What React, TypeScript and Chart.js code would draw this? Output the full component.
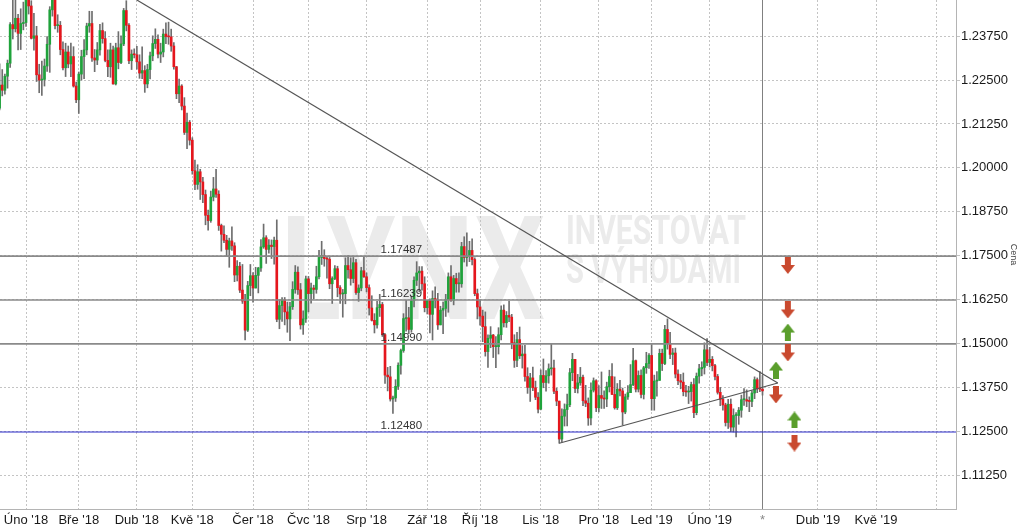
import React, { useEffect, useRef } from 'react';
import { Chart, registerables } from 'chart.js';
Chart.register(...registerables);

// EUR/USD daily candles, trading-day index -10 (18 Jan 2018) .. 279 (1 Mar 2019)
const startIndex = -10;
const firstOpen = 1.217;

const closes = [
  // Jan 2018 (18th-31st)
  1.2236, 1.2221, 1.2261, 1.2298, 1.2408, 1.2396, 1.2426, 1.2383, 1.2411, 1.2414,
  // Feb 2018
  1.2512, 1.2461, 1.2369, 1.2376, 1.2265, 1.225, 1.2252, 1.229, 1.2352, 1.245,
  1.2505, 1.2405, 1.2406, 1.2337, 1.2285, 1.233, 1.2296, 1.2317, 1.2233, 1.2194,
  // Mar 2018
  1.2267, 1.2317, 1.2336, 1.2404, 1.2411, 1.2313, 1.2307, 1.2336, 1.2391, 1.2368,
  1.2306, 1.2288, 1.2336, 1.2239, 1.2342, 1.23, 1.2353, 1.2448, 1.2406, 1.2305,
  1.2324, 1.2322,
  // Apr 2018
  1.2302, 1.227, 1.2277, 1.2239, 1.228, 1.2319, 1.2354, 1.2366, 1.2324, 1.233,
  1.2381, 1.2374, 1.2373, 1.2347, 1.2288, 1.2211, 1.2233, 1.2176, 1.2101, 1.213,
  1.2079,
  // May 2018
  1.1992, 1.1953, 1.1989, 1.196, 1.1924, 1.1865, 1.185, 1.1917, 1.194, 1.1925,
  1.1836, 1.1811, 1.1794, 1.1768, 1.1792, 1.1778, 1.1695, 1.172, 1.1652, 1.1621,
  1.1538, 1.1665, 1.1693,
  // Jun 2018
  1.1658, 1.1694, 1.1715, 1.1775, 1.1801, 1.1768, 1.178, 1.1776, 1.1794, 1.1569,
  1.1608, 1.1624, 1.159, 1.157, 1.1605, 1.1654, 1.1703, 1.1653, 1.1553, 1.157,
  1.1684,
  // Jul 2018
  1.1642, 1.1658, 1.1654, 1.169, 1.1745, 1.175, 1.1742, 1.174, 1.167, 1.1685,
  1.1713, 1.1659, 1.1641, 1.1642, 1.1722, 1.171, 1.1685, 1.173, 1.1645, 1.1658,
  1.1707, 1.169,
  // Aug 2018
  1.1659, 1.1601, 1.1566, 1.1553, 1.1602, 1.1611, 1.1525, 1.141, 1.1405, 1.1342,
  1.1345, 1.1378, 1.1438, 1.148, 1.1571, 1.1573, 1.154, 1.1622, 1.168, 1.1701,
  1.1706, 1.167, 1.1602,
  // Sep 2018
  1.1622, 1.1583, 1.1628, 1.1624, 1.1553, 1.1595, 1.16, 1.1625, 1.169, 1.1623,
  1.1685, 1.167, 1.167, 1.1776, 1.1745, 1.1748, 1.1765, 1.1739, 1.1642, 1.1604,
  // Oct 2018
  1.1578, 1.1548, 1.1477, 1.1515, 1.1524, 1.1491, 1.1491, 1.1525, 1.1595, 1.1559,
  1.158, 1.1575, 1.1502, 1.1452, 1.1511, 1.1465, 1.147, 1.1406, 1.1375, 1.1402,
  1.1374, 1.1347, 1.1313,
  // Nov 2018
  1.1409, 1.1389, 1.1408, 1.1428, 1.143, 1.1364, 1.1336, 1.1228, 1.1293, 1.1312,
  1.1326, 1.1417, 1.1455, 1.1372, 1.1388, 1.1404, 1.1337, 1.133, 1.1288, 1.1367,
  1.1394, 1.1317,
  // Dec 2018
  1.1352, 1.1344, 1.1342, 1.1377, 1.1406, 1.1355, 1.1317, 1.137, 1.1365, 1.1305,
  1.1348, 1.136, 1.1383, 1.1451, 1.137, 1.1409, 1.1355, 1.1431, 1.1443, 1.1466,
  // Jan 2019
  1.1343, 1.1393, 1.1395, 1.1472, 1.1443, 1.154, 1.15, 1.1469, 1.1473, 1.1413,
  1.1394, 1.139, 1.1363, 1.1362, 1.1363, 1.1383, 1.1303, 1.1407, 1.1428, 1.1432,
  1.1482, 1.1446,
  // Feb 2019
  1.1455, 1.1437, 1.1406, 1.1361, 1.1341, 1.1325, 1.1275, 1.1327, 1.1262, 1.1295,
  1.1295, 1.131, 1.134, 1.134, 1.1336, 1.1335, 1.1359, 1.1397, 1.1371, 1.137,
  // Mar 2019
  1.1365,
];

const highs = [
  // Jan 2018
  1.2296, 1.228, 1.2267, 1.2307, 1.2414, 1.2537, 1.2494, 1.2437, 1.2453, 1.2472,
  // Feb 2018
  1.2523, 1.2519, 1.2476, 1.244, 1.2403, 1.2295, 1.2304, 1.231, 1.2374, 1.2459,
  1.2509, 1.2555, 1.2436, 1.2417, 1.2359, 1.2355, 1.2347, 1.2355, 1.2345, 1.2244,
  // Mar 2018
  1.2273, 1.2335, 1.2365, 1.2412, 1.2446, 1.2446, 1.2337, 1.2357, 1.2409, 1.2413,
  1.2388, 1.2336, 1.2355, 1.2347, 1.2355, 1.2388, 1.2376, 1.2454, 1.2476, 1.2411,
  1.2336, 1.2339,
  // Apr 2018
  1.2346, 1.2322, 1.2345, 1.2291, 1.2295, 1.233, 1.2376, 1.2396, 1.2379, 1.2355,
  1.2395, 1.2413, 1.2415, 1.2395, 1.2357, 1.2289, 1.2253, 1.2237, 1.22, 1.2156,
  1.2135,
  // May 2018
  1.2086, 1.2022, 1.2009, 1.1996, 1.1973, 1.1937, 1.188, 1.1934, 1.1973, 1.1996,
  1.1935, 1.184, 1.1835, 1.1808, 1.18, 1.1832, 1.1787, 1.1736, 1.1731, 1.1725,
  1.164, 1.1677, 1.1725,
  // Jun 2018
  1.1702, 1.1717, 1.1717, 1.1796, 1.184, 1.1807, 1.1796, 1.1795, 1.1803, 1.1852,
  1.1625, 1.1631, 1.1631, 1.1618, 1.1617, 1.1676, 1.1722, 1.1718, 1.1671, 1.1593,
  1.1692,
  // Jul 2018
  1.1691, 1.1672, 1.1666, 1.172, 1.1765, 1.1791, 1.1767, 1.1748, 1.1745, 1.169,
  1.1722, 1.172, 1.1665, 1.1654, 1.1744, 1.175, 1.1744, 1.1745, 1.174, 1.1667,
  1.1717, 1.1747,
  // Aug 2018
  1.1701, 1.1667, 1.1636, 1.1585, 1.162, 1.164, 1.1617, 1.1528, 1.1432, 1.1435,
  1.135, 1.1397, 1.1445, 1.1484, 1.1585, 1.1623, 1.1603, 1.1634, 1.169, 1.1733,
  1.1719, 1.1719, 1.169,
  // Sep 2018
  1.1623, 1.1627, 1.165, 1.1661, 1.1643, 1.1606, 1.1618, 1.164, 1.1701, 1.1722,
  1.1694, 1.17, 1.1701, 1.1788, 1.1804, 1.1815, 1.1791, 1.1798, 1.1744, 1.1655,
  // Oct 2018
  1.1624, 1.1595, 1.159, 1.1525, 1.1548, 1.1526, 1.152, 1.1545, 1.1607, 1.161,
  1.1591, 1.1621, 1.1583, 1.1525, 1.1532, 1.1547, 1.1494, 1.1495, 1.1431, 1.1415,
  1.1433, 1.1393, 1.136,
  // Nov 2018
  1.1425, 1.1456, 1.1423, 1.1442, 1.15, 1.1453, 1.1373, 1.1336, 1.1314, 1.1328,
  1.1356, 1.1429, 1.1472, 1.1455, 1.1412, 1.1432, 1.141, 1.1381, 1.1345, 1.1388,
  1.1402, 1.1397,
  // Dec 2018
  1.138, 1.1419, 1.1365, 1.139, 1.1424, 1.1443, 1.1405, 1.1386, 1.1395, 1.1373,
  1.1356, 1.138, 1.144, 1.1486, 1.1453, 1.1422, 1.1425, 1.1435, 1.1475, 1.1471,
  // Jan 2019
  1.1497, 1.141, 1.142, 1.1484, 1.1484, 1.1552, 1.157, 1.1532, 1.1486, 1.1487,
  1.1425, 1.1412, 1.1416, 1.1381, 1.1378, 1.139, 1.14, 1.1416, 1.1441, 1.1448,
  1.1502, 1.1514,
  // Feb 2019
  1.1489, 1.1463, 1.1441, 1.1412, 1.1375, 1.1352, 1.133, 1.1341, 1.1342, 1.1314,
  1.1303, 1.1318, 1.1353, 1.1372, 1.1368, 1.1348, 1.1365, 1.1405, 1.1402, 1.142,
  // Mar 2019
  1.1409,
];

const lows = [
  // Jan 2018
  1.2165, 1.2205, 1.221, 1.2227, 1.2286, 1.2367, 1.2387, 1.2336, 1.2337, 1.2393,
  // Feb 2018
  1.2403, 1.2438, 1.2367, 1.2335, 1.2246, 1.2214, 1.2206, 1.2233, 1.2275, 1.2272,
  1.2432, 1.2396, 1.2386, 1.2322, 1.2279, 1.226, 1.2285, 1.226, 1.223, 1.2186,
  // Mar 2018
  1.2155, 1.225, 1.2254, 1.2322, 1.2386, 1.2303, 1.2274, 1.2294, 1.2321, 1.2355,
  1.2302, 1.226, 1.2258, 1.2238, 1.2236, 1.2282, 1.2297, 1.2348, 1.239, 1.2297,
  1.228, 1.2313,
  // Apr 2018
  1.2281, 1.2255, 1.2254, 1.2215, 1.2228, 1.2253, 1.2305, 1.234, 1.2313, 1.23,
  1.2316, 1.2354, 1.2352, 1.2332, 1.2281, 1.2197, 1.2186, 1.2165, 1.2095, 1.2055,
  1.2065,
  // May 2018
  1.1982, 1.1938, 1.1939, 1.191, 1.1901, 1.1838, 1.1823, 1.1845, 1.1906, 1.1916,
  1.1822, 1.1763, 1.1787, 1.175, 1.1717, 1.1765, 1.1676, 1.1678, 1.1645, 1.1614,
  1.151, 1.1534, 1.1636,
  // Jun 2018
  1.1618, 1.1658, 1.1644, 1.1705, 1.1771, 1.1728, 1.1757, 1.1742, 1.1726, 1.1562,
  1.1542, 1.1563, 1.1553, 1.1532, 1.1508, 1.1597, 1.1643, 1.164, 1.1541, 1.1526,
  1.156,
  // Jul 2018
  1.159, 1.1615, 1.1627, 1.1643, 1.1684, 1.1725, 1.172, 1.1686, 1.1656, 1.1614,
  1.1682, 1.1633, 1.1614, 1.1575, 1.1613, 1.1686, 1.1666, 1.1673, 1.164, 1.162,
  1.165, 1.1688,
  // Aug 2018
  1.1647, 1.1581, 1.1564, 1.153, 1.1544, 1.1577, 1.152, 1.1386, 1.1365, 1.1336,
  1.1301, 1.1335, 1.1369, 1.1413, 1.1475, 1.1535, 1.1528, 1.1532, 1.1604, 1.1665,
  1.1647, 1.1652, 1.159,
  // Sep 2018
  1.1584, 1.153, 1.151, 1.1601, 1.154, 1.1553, 1.1528, 1.1577, 1.1589, 1.162,
  1.161, 1.1646, 1.1646, 1.166, 1.1732, 1.172, 1.1733, 1.1724, 1.1636, 1.157,
  // Oct 2018
  1.1552, 1.1505, 1.1464, 1.1432, 1.1488, 1.146, 1.1431, 1.147, 1.151, 1.1547,
  1.1546, 1.1562, 1.1485, 1.1432, 1.1434, 1.1457, 1.143, 1.1393, 1.1358, 1.1335,
  1.1366, 1.134, 1.1302,
  // Nov 2018
  1.1311, 1.1374, 1.1364, 1.1387, 1.141, 1.1357, 1.1323, 1.1216, 1.122, 1.1265,
  1.1265, 1.132, 1.1394, 1.136, 1.1359, 1.1381, 1.1323, 1.132, 1.1267, 1.1268,
  1.1362, 1.1306,
  // Dec 2018
  1.1305, 1.1315, 1.1315, 1.132, 1.1362, 1.1354, 1.1313, 1.1312, 1.1351, 1.1268,
  1.13, 1.1341, 1.137, 1.138, 1.1362, 1.1362, 1.1345, 1.1342, 1.1415, 1.1429,
  // Jan 2019
  1.131, 1.131, 1.135, 1.1395, 1.1423, 1.144, 1.1484, 1.1457, 1.144, 1.1402,
  1.1383, 1.1371, 1.1351, 1.1349, 1.1329, 1.1336, 1.1289, 1.1297, 1.1387, 1.1408,
  1.1413, 1.1437,
  // Feb 2019
  1.1433, 1.1422, 1.1396, 1.1356, 1.1323, 1.131, 1.1265, 1.1258, 1.1249, 1.1248,
  1.1234, 1.127, 1.129, 1.1324, 1.132, 1.1306, 1.132, 1.1343, 1.136, 1.1363,
  // Mar 2019
  1.1353,
];

// month starts (trading-day index) and their labels
const monthTickIdx = [0, 20, 42, 63, 86, 107, 129, 152, 172, 195, 217, 237, 259, 279, 300, 322, 345];
const monthTickLabels = [
  "Úno '18", "Bře '18", "Dub '18", "Kvě '18", "Čer '18", "Čvc '18", "Srp '18", "Zář '18",
  "Říj '18", "Lis '18", "Pro '18", "Led '19", "Úno '19", "*", "Dub '19", "Kvě '19", "",
];
const todayIdx = 279;

const priceTicks = [1.1125, 1.125, 1.1375, 1.15, 1.1625, 1.175, 1.1875, 1.2, 1.2125, 1.225, 1.2375];

const resistanceLevels = [1.17487, 1.16239, 1.1499];
const supportLevel = 1.1248;
const levelLabelIdx = 142.2;

const downTrendX = [42, 284.8];
const downTrendY = [1.2478, 1.13875];
const upTrendX = [202, 284.8];
const upTrendY = [1.1216, 1.13875];

const arrowUpX = [288.6, 284.1, 291.1];
const arrowUpY = [1.15327, 1.14245, 1.12822];
const arrowDownX = [288.6, 288.6, 288.6, 284.1, 291.1];
const arrowDownY = [1.17221, 1.15954, 1.1473, 1.13534, 1.12167];

const X_MIN = -9.85;
const X_MAX = 352.3;
const Y_MIN = 1.10288;
const Y_MAX = 1.2478;

const GREEN = '#1fa33b';
const RED = '#e5161d';
const FONT = '"Liberation Sans", Arial, sans-serif';

function makeArrow(up: boolean, color: string) {
  const c = document.createElement('canvas');
  c.width = 14;
  c.height = 17;
  const g = c.getContext('2d')!;
  g.fillStyle = color;
  g.beginPath();
  if (up) {
    g.moveTo(7, 0); g.lineTo(14, 9); g.lineTo(10, 9); g.lineTo(10, 17);
    g.lineTo(4, 17); g.lineTo(4, 9); g.lineTo(0, 9);
  } else {
    g.moveTo(4, 0); g.lineTo(10, 0); g.lineTo(10, 8); g.lineTo(14, 8);
    g.lineTo(7, 17); g.lineTo(0, 8); g.lineTo(4, 8);
  }
  g.closePath();
  g.fill();
  return c;
}

function drawFitted(ctx: CanvasRenderingContext2D, text: string, x: number, baseline: number, width: number, size: number) {
  ctx.font = `bold ${size}px Roboto, "DejaVu Sans", sans-serif`;
  const w = ctx.measureText(text).width;
  ctx.save();
  ctx.translate(x, baseline);
  ctx.scale(width / w, 1);
  ctx.fillText(text, 0, 0);
  ctx.restore();
}

const watermarkPlugin = {
  id: 'watermark',
  beforeDraw(chart: any) {
    const ctx = chart.ctx as CanvasRenderingContext2D;
    ctx.save();
    ctx.fillStyle = '#ebebeb';
    ctx.textBaseline = 'alphabetic';
    drawFitted(ctx, 'LYNX', 281, 319, 264, 145);
    drawFitted(ctx, 'INVESTOVAT', 566, 244, 180, 41);
    drawFitted(ctx, 'S VÝHODAMI', 566, 283, 175, 41);
    ctx.restore();
  },
};

const levelLabelPlugin = {
  id: 'levelLabels',
  afterDatasetsDraw(chart: any) {
    const ctx = chart.ctx as CanvasRenderingContext2D;
    const xs = chart.scales.x;
    const ys = chart.scales.y;
    ctx.save();
    ctx.font = `11.5px ${FONT}`;
    ctx.fillStyle = '#333333';
    ctx.textAlign = 'center';
    ctx.textBaseline = 'alphabetic';
    [...resistanceLevels, supportLevel].forEach((v) => {
      ctx.fillText(v.toFixed(5), xs.getPixelForValue(levelLabelIdx), ys.getPixelForValue(v) - 3);
    });
    ctx.restore();
  },
};

function zeroPadding(s: any) {
  s.paddingLeft = 0;
  s.paddingRight = 0;
  s.paddingTop = 0;
  s.paddingBottom = 0;
}

export default function App() {
  const ref = useRef<HTMLCanvasElement>(null);

  useEffect(() => {
    const n = Math.min(closes.length, highs.length, lows.length);
    const opens = closes.slice(0, n).map((c, i) => (i === 0 ? firstOpen : closes[i - 1]));
    const wickData: any[] = [];
    const bodyData: any[] = [];
    const bodyColors: string[] = [];
    for (let i = 0; i < n; i++) {
      const x = startIndex + i;
      const o = opens[i];
      const c = closes[i];
      wickData.push({ x, y: [Math.min(lows[i], o, c), Math.max(highs[i], o, c)] });
      bodyData.push({ x, y: [o, c] });
      bodyColors.push(c >= o ? GREEN : RED);
    }

    const levelDatasets = resistanceLevels.map((v) => ({
      type: 'line',
      data: [{ x: startIndex, y: v }, { x: 360, y: v }],
      borderColor: '#8a8a8a',
      borderWidth: 1.6,
      pointRadius: 0,
      order: 3,
    }));

    const upArrow = makeArrow(true, '#5a9e2c');
    const downArrow = makeArrow(false, '#c9492e');

    const chart = new Chart(ref.current!, {
      type: 'bar',
      data: {
        datasets: [
          {
            type: 'bar',
            data: wickData,
            backgroundColor: '#6e6e6e',
            barThickness: 1,
            grouped: false,
            order: 10,
          },
          {
            type: 'bar',
            data: bodyData,
            backgroundColor: bodyColors,
            barThickness: 2,
            grouped: false,
            minBarLength: 1,
            order: 9,
          },
          ...levelDatasets,
          {
            type: 'line',
            data: [{ x: startIndex, y: supportLevel }, { x: 360, y: supportLevel }],
            borderColor: '#2828c8',
            borderWidth: 1,
            pointRadius: 0,
            order: 3,
          },
          {
            type: 'line',
            data: downTrendX.map((x, i) => ({ x, y: downTrendY[i] })),
            borderColor: '#555555',
            borderWidth: 1.2,
            pointRadius: 0,
            order: 2,
          },
          {
            type: 'line',
            data: upTrendX.map((x, i) => ({ x, y: upTrendY[i] })),
            borderColor: '#555555',
            borderWidth: 1.2,
            pointRadius: 0,
            order: 2,
          },
          {
            type: 'line',
            data: arrowUpX.map((x, i) => ({ x, y: arrowUpY[i] })),
            showLine: false,
            pointStyle: upArrow,
            pointRadius: 8,
            order: 0,
          },
          {
            type: 'line',
            data: arrowDownX.map((x, i) => ({ x, y: arrowDownY[i] })),
            showLine: false,
            pointStyle: downArrow,
            pointRadius: 8,
            order: 0,
          },
        ] as any,
      },
      options: {
        animation: false,
        responsive: false,
        devicePixelRatio: 1,
        layout: { padding: 0, autoPadding: false },
        plugins: { legend: { display: false }, tooltip: { enabled: false } },
        scales: {
          x: {
            type: 'linear',
            min: X_MIN,
            max: X_MAX,
            offset: false,
            grid: {
              offset: false,
              drawTicks: false,
              color: (c: any) => (c.tick && c.tick.value === todayIdx ? '#808080' : '#c4c4c4'),
              lineWidth: 1,
            },
            border: {
              display: true,
              color: '#b4b4b4',
              width: 1,
              dash: (c: any) => (c.tick && c.tick.value === todayIdx ? [] : [2, 2]),
            },
            ticks: {
              autoSkip: false,
              maxRotation: 0,
              padding: 4,
              font: { family: FONT, size: 13 },
              color: (c: any) => (c.tick && c.tick.value === todayIdx ? '#888888' : '#1a1a1a'),
              callback: (v: any) => {
                const k = monthTickIdx.indexOf(Number(v));
                return k >= 0 ? monthTickLabels[k] : '';
              },
            },
            afterBuildTicks: (s: any) => {
              s.ticks = monthTickIdx.map((v) => ({ value: v }));
            },
            afterFit: (s: any) => {
              s.height = 23;
              zeroPadding(s);
            },
          },
          y: {
            type: 'linear',
            position: 'right',
            min: Y_MIN,
            max: Y_MAX,
            grid: {
              color: '#c4c4c4',
              drawTicks: true,
              tickLength: 4,
              tickColor: '#c4c4c4',
            },
            border: { display: true, color: '#b4b4b4', width: 1, dash: [2, 2] },
            ticks: {
              padding: 1,
              font: { family: FONT, size: 13 },
              color: '#1a1a1a',
              callback: (v: any) => Number(v).toFixed(5),
            },
            afterBuildTicks: (s: any) => {
              s.ticks = priceTicks.map((v) => ({ value: v }));
            },
            afterFit: (s: any) => {
              s.width = 68;
              zeroPadding(s);
            },
            title: {
              display: true,
              text: 'Cena',
              font: { family: FONT, size: 9 },
              color: '#444444',
              padding: 5,
            },
          },
        },
      } as any,
      plugins: [watermarkPlugin, levelLabelPlugin],
    });
    return () => chart.destroy();
  }, []);

  return (
    <div style={{ position: 'absolute', left: 0, top: 0, width: 1024, height: 532, background: '#fff' }}>
      <canvas ref={ref} width={1024} height={532} style={{ display: 'block' }} />
    </div>
  );
}
